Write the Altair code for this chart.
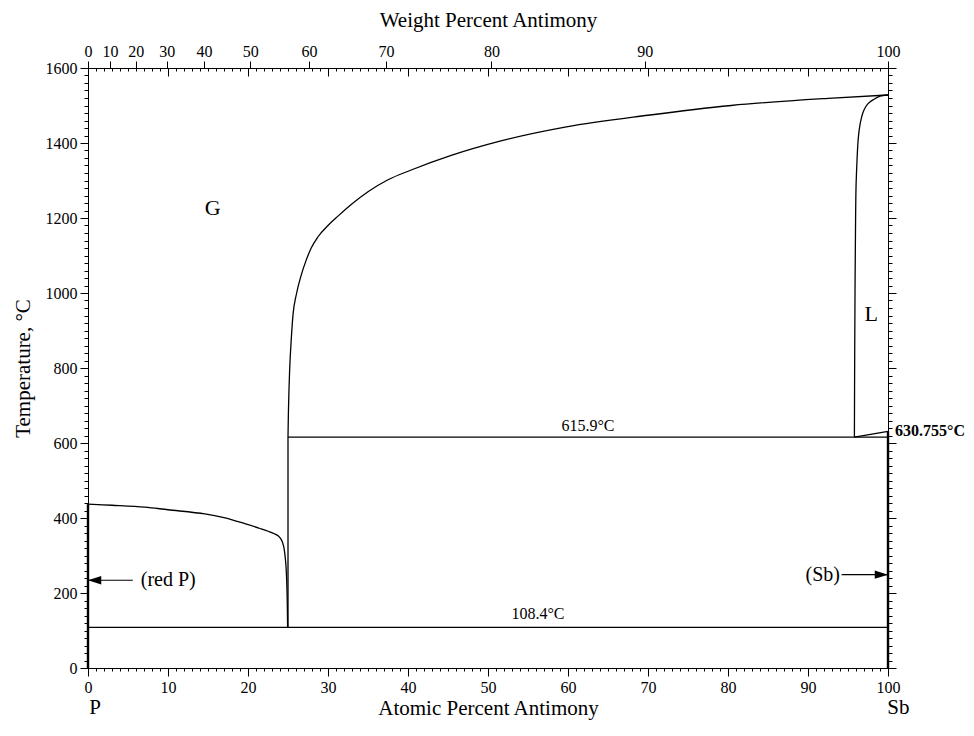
import json
import altair as alt
import pandas as pd

# ---------------- data (at.% Sb, temperature °C) ----------------
# G / (red P) boundary curve
left_x = [0, 3.0, 7.1, 10.0, 14.6, 17.0, 19.6, 21.5, 22.6, 23.3, 23.8, 24.2, 24.45, 24.6, 24.72, 24.8, 24.87, 24.92, 24.95]
left_t = [437, 434, 429, 422, 411, 401, 385, 372, 364, 358, 352, 341, 325, 305, 280, 252, 210, 160, 108.4]
# G / L boundary (upper curve)
upper_x = [25.0, 25.05, 25.12, 25.2, 25.42, 25.63, 26.04, 26.67, 27.3, 27.9, 28.75, 30.0, 31.25,
           32.9, 35.0, 37.5, 40.4, 45.4, 51.5, 59.8, 70.0, 80.4, 92.5, 100]
upper_t = [615.9, 680, 740, 792, 881, 943, 996, 1049, 1089, 1120, 1150, 1180, 1205,
           1236, 1270, 1302, 1328, 1367, 1405, 1443, 1474, 1500, 1519, 1528]
# L boundary near Sb
right_x = [100, 99.5, 99.0, 98.2, 97.5, 97.0, 96.7, 96.4, 96.25, 96.1, 96.0, 95.93, 95.88, 95.84, 95.8]
right_t = [1528, 1527, 1525, 1516, 1505, 1488, 1469, 1435, 1403, 1340, 1279, 1150, 1013, 850, 615.9]
# invariant lines
vert25_x = [25, 25]
vert25_t = [108.4, 615.9]
iso616_x = [25, 100]
iso616_t = [615.9, 615.9]
iso108_x = [0, 100]
iso108_t = [108.4, 108.4]
melt_x = [95.8, 100]
melt_t = [615.9, 630.755]
# pure-element solid lines (thick)
redp_x = [0, 0]
redp_t = [0, 437]
sb_x = [100, 100]
sb_t = [0, 630.755]

# arrows
arrow_redp_x = [5.6, 0]
arrow_redp_t = [234, 234]
arrow_sb_x = [94.2, 100]
arrow_sb_t = [249, 249]

# labels
lab_text = ["G", "L", "615.9°C", "108.4°C", "P", "Sb"]
lab_x = [15.6, 97.9, 62.5, 56.25, 0.9, 101.3]
lab_t = [1227, 943, 645, 143, -107, -107]
lab_size = [22, 22, 16, 16, 21, 21]

# weight-percent axis (tick positions in at.%)
wt_pos = [0, 2.749, 5.979, 9.831, 14.50, 20.28, 27.62, 37.25, 50.43, 69.60, 100]
wt_labels = ["0", "10", "20", "30", "40", "50", "60", "70", "80", "90", "100"]

at_major = list(range(0, 101, 10))
at_minor = list(range(0, 101, 1))
t_major = list(range(0, 1601, 200))
t_minor = list(range(0, 1601, 20))

# ---------------- tables ----------------
def seg_df(segs):
    rows = []
    for name, xs, ts, w in segs:
        for i, (a, b) in enumerate(zip(xs, ts)):
            rows.append({"seg": name, "i": i, "x": a, "T": b, "w": w})
    return pd.DataFrame(rows)

curves_df = seg_df([
    ("left", left_x, left_t, 1.3), ("right", right_x, right_t, 1.3),
])
straight_df = seg_df([
    ("v25", vert25_x, vert25_t, 1.3), ("i616", iso616_x, iso616_t, 1.3),
    ("i108", iso108_x, iso108_t, 1.3), ("melt", melt_x, melt_t, 1.3),
    ("redp", redp_x, redp_t, 2.4), ("sb", sb_x, sb_t, 2.4),
])
mono_df = seg_df([
    ("upper", upper_x, upper_t, 1.3),
    ("a1", arrow_redp_x[::-1], arrow_redp_t, 1.2), ("a2", arrow_sb_x, arrow_sb_t, 1.2),
])
head_df = pd.DataFrame({
    "x": [arrow_redp_x[-1], arrow_sb_x[-1]],
    "T": [arrow_redp_t[-1], arrow_sb_t[-1]],
    "shape": ["M0,0L1,-0.32L1,0.32Z", "M0,0L-1,-0.32L-1,0.32Z"],
})
lab_df = pd.DataFrame({"text": lab_text, "x": lab_x, "T": lab_t, "size": lab_size})
redp_lab = pd.DataFrame({"text": ["(red P)"], "x": [6.6], "T": [234]})
sb_lab = pd.DataFrame({"text": ["(Sb)"], "x": [94.0], "T": [249]})
melt_lab = pd.DataFrame({"text": ["630.755°C"], "x": [100], "T": [632]})

XS = alt.Scale(domain=[0, 100], nice=False, zero=False)
YS = alt.Scale(domain=[0, 1600], nice=False, zero=False)

def X(axis):
    return alt.X("x:Q", scale=XS, axis=axis)

def Y(axis):
    return alt.Y("T:Q", scale=YS, axis=axis)

FONT = "Liberation Serif"
label_expr = f"{json.dumps(wt_labels)}[indexof({json.dumps(wt_pos)}, datum.value)]"

curves = alt.Chart(curves_df).mark_line(color="black", interpolate="catmull-rom").encode(
    x=X(alt.Axis(orient="bottom", values=at_major, tickSize=8, labelPadding=3,
                 title="Atomic Percent Antimony", titlePadding=2,
                 labelFlush=False, labelOverlap=False)),
    y=Y(alt.Axis(orient="left", values=t_major, tickSize=8, labelPadding=3,
                 format="d", title="Temperature, °C", titlePadding=12,
                 labelFlush=False, labelOverlap=False)),
    detail="seg:N", order="i:Q",
    strokeWidth=alt.StrokeWidth("w:Q", scale=None),
)

straight = alt.Chart(straight_df).mark_line(color="black").encode(
    x=X(alt.Axis(orient="bottom", values=at_minor, tickSize=3, labels=False,
                 domain=False, title=None)),
    y=Y(alt.Axis(orient="left", values=t_minor, tickSize=4, labels=False,
                 domain=False, title=None)),
    detail="seg:N", order="i:Q",
    strokeWidth=alt.StrokeWidth("w:Q", scale=None),
)

mono = alt.Chart(mono_df).mark_line(color="black", interpolate="monotone").encode(
    x=X(alt.Axis(orient="top", values=wt_pos, tickSize=7, labelPadding=2,
                 labelExpr=label_expr, title="Weight Percent Antimony",
                 titlePadding=13, labelFlush=False, labelOverlap=False)),
    y=Y(alt.Axis(orient="right", values=t_major, tickSize=8, labels=False, title=None)),
    detail="seg:N", order="i:Q",
    strokeWidth=alt.StrokeWidth("w:Q", scale=None),
)

heads = alt.Chart(head_df).mark_point(filled=True, color="black", opacity=1,
                                      size=700, strokeWidth=0).encode(
    x=X(alt.Axis(orient="top", values=at_major, tickSize=8, offset=-8,
                 labels=False, domain=False, title=None)),
    y=Y(alt.Axis(orient="right", values=t_minor, tickSize=4, labels=False,
                 domain=False, title=None)),
    shape=alt.Shape("shape:N", scale=None),
)

txt_c = alt.Chart(lab_df).mark_text(font=FONT, color="black", baseline="middle",
                                    align="center").encode(
    x=X(alt.Axis(orient="top", values=at_minor, tickSize=3, offset=-3,
                 labels=False, domain=False, title=None)),
    y=Y(None),
    text="text:N",
    size=alt.Size("size:Q", scale=None),
)

txt_l = alt.Chart(redp_lab).mark_text(font=FONT, color="black", baseline="middle",
                                      align="left", fontSize=20).encode(
    x=X(None), y=Y(None), text="text:N")

txt_r = alt.Chart(sb_lab).mark_text(font=FONT, color="black", baseline="middle",
                                    align="right", fontSize=20).encode(
    x=X(None), y=Y(None), text="text:N")

txt_b = alt.Chart(melt_lab).mark_text(font=FONT, color="black", baseline="middle",
                                      align="left", fontSize=16, fontWeight="bold",
                                      dx=7).encode(
    x=X(None), y=Y(None), text="text:N")

chart = alt.layer(curves, straight, mono, heads, txt_c, txt_l, txt_r, txt_b).resolve_scale(
    x="independent", y="independent"
).properties(
    width=800, height=600,
    autosize="none",
    padding={"left": 80, "top": 60, "right": 78, "bottom": 58},
).configure_view(stroke=None).configure_axis(
    grid=False, domainColor="black", tickColor="black", labelColor="black",
    titleColor="black", labelFont=FONT, titleFont=FONT, labelFontSize=16,
    titleFontSize=21, titleFontWeight="normal", domainWidth=1, tickWidth=1,
)

chart.save("out.html", embed_options={"renderer": "svg", "actions": False})
